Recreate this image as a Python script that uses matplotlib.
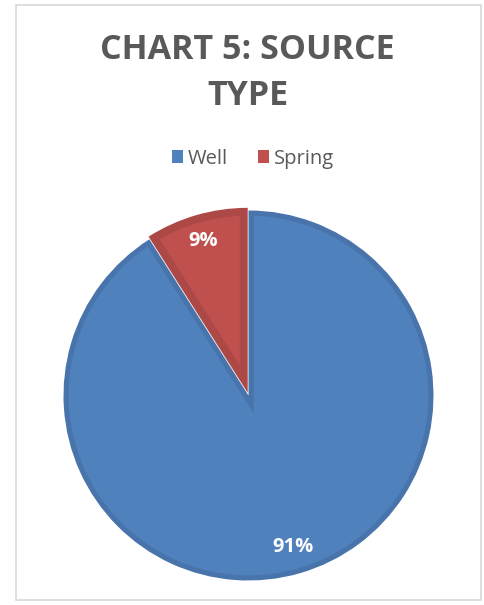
import matplotlib
matplotlib.use("Agg")
import numpy as np
import matplotlib.pyplot as plt
from matplotlib.patches import Rectangle, Polygon

labels = ["Well", "Spring"]
shares = [91, 9]
colors = ["#4F81BD", "#C0504D"]
edge_colors = ["#4874AB", "#AC4845"]
explode = [0.0, 0.015]
border = [0.028, 0.043]   # inner border width, in radius units

plt.rcParams['font.family'] = ['Open Sans', 'DejaVu Sans']

fig = plt.figure(figsize=(4.84, 6.05), dpi=100)

# light frame around the chart area
fig.patches.append(Rectangle((16 / 484, 5 / 605), 465 / 484, 595 / 605,
                             transform=fig.transFigure, fill=False,
                             edgecolor="#D9D9D9", linewidth=1.2))

fig.text(0.512, 0.879, "CHART 5: SOURCE\nTYPE", ha="center", va="center",
         fontsize=24.5, fontweight="bold", color="#595959", linespacing=1.45)

ax = fig.add_axes([63.5 / 484, 24.5 / 605, 370 / 484, 370 / 605])
wedges, texts, autotexts = ax.pie(
    shares, colors=edge_colors, explode=explode, startangle=90,
    counterclock=False, autopct="%1.0f%%", pctdistance=0.855,
    wedgeprops=dict(linewidth=0),
    textprops=dict(color="white", fontsize=14.5, fontweight="bold"))


def inner_face(w, d):
    # lighter face of a wedge, inset by d on every side
    cx, cy = w.center
    t1, t2 = np.radians(w.theta1), np.radians(w.theta2)
    half = (t2 - t1) / 2
    mid = (t1 + t2) / 2
    k = d / np.sin(half)
    corner = (cx + k * np.cos(mid), cy + k * np.sin(mid))
    R = w.r - d
    off = np.arctan(d / np.sqrt(R ** 2 - d ** 2))
    ang = np.linspace(t1 + off, t2 - off, 200)
    pts = [corner] + list(zip(cx + R * np.cos(ang), cy + R * np.sin(ang)))
    return pts


for w, c, d in zip(wedges, colors, border):
    ax.add_patch(Polygon(inner_face(w, d), closed=True, facecolor=c,
                         edgecolor="none", zorder=1.5))

ax.set_xlim(-1, 1)
ax.set_ylim(-1, 1)
ax.set_aspect("equal")

handles = [Rectangle((0, 0), 1, 1, facecolor=c) for c in colors]
fig.legend(handles, labels, loc="center", bbox_to_anchor=(0.523, 0.738),
           ncol=2, frameon=False, fontsize=14.5, handlelength=0.55,
           handleheight=0.65, handletextpad=0.25, columnspacing=1.5,
           labelcolor="#595959")

fig.savefig("out.png", dpi=100)
